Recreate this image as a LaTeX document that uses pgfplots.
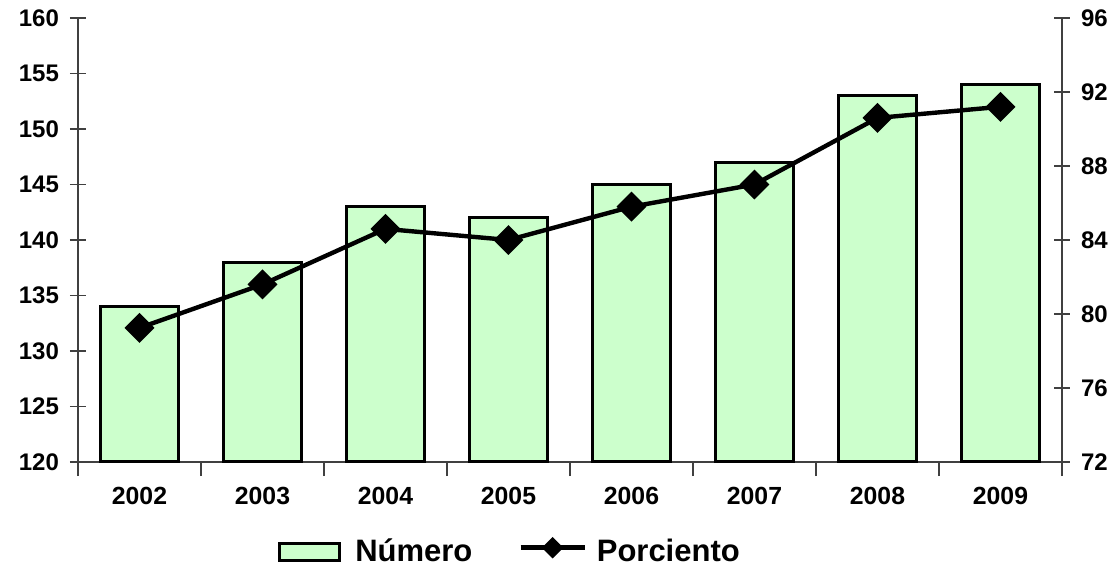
\documentclass[border=0pt]{standalone}
\usepackage{fontspec}
\setmainfont{Liberation Sans}
\usepackage{pgfplots}
\pgfplotsset{compat=1.18}
\definecolor{barfill}{HTML}{CCFFCC}
\pgfplotsset{
  barlegend/.style={legend image code/.code={\draw[##1] (0pt,-4.25pt) rectangle (30pt,4.25pt); \path (35pt,0pt);}},
  linelegend/.style={legend image code/.code={\draw[##1, mark=none] (0pt,2pt) -- (32pt,2pt);
     \draw[##1, mark size=2.7pt] plot coordinates {(16pt,2pt)}; \path (35pt,0pt);}},
}
\begin{document}
\begin{tikzpicture}
\pgfplotsset{
  common/.style={
    width=492pt, height=222pt, scale only axis,
    xmin=-0.5, xmax=7.5,
    /pgf/number format/assume math mode=true,
    tick align=center,
    major tick length=8pt,
    tick style={black!75, line width=0.6pt},
  }
}
\begin{axis}[common,
  axis x line=bottom, axis y line=left,
  x axis line style={-, black!75, line width=0.6pt},
  y axis line style={-, black!75, line width=0.6pt},
  ymin=120, ymax=160, ytick={120,125,...,160},
  yticklabel style={font=\fontsize{12}{14}\selectfont\bfseries, xshift=-2pt},
  xticklabel style={font=\fontsize{12.4}{14}\selectfont\bfseries, yshift=-1pt},
  xtick={0,...,7},
  xticklabels={2002,2003,2004,2005,2006,2007,2008,2009},
  major x tick style={draw=none},
  minor xtick={-0.5,0.5,...,7.5},
  minor tick length=7pt,
  ybar, bar width=39pt,
]
\addplot[draw=black, line width=1.6pt, fill=barfill, bar shift=0pt] coordinates {(0,134) (1,138) (2,143) (3,142) (4,145) (5,147) (6,153) (7,154)};
\end{axis}
\begin{axis}[common,
  axis x line=none, axis y line=right,
  y axis line style={-, black!75, line width=0.6pt},
  ymin=72, ymax=96, ytick={72,76,...,96},
  yticklabel style={font=\fontsize{12}{14}\selectfont\bfseries, xshift=2pt},
  legend style={at={(0.44,-0.202)}, anchor=center, draw=none, fill=none, legend columns=2,
    font=\fontsize{15.5}{18}\selectfont\bfseries,
    /tikz/every even column/.append style={column sep=21pt}},
]
\addlegendimage{draw=black, line width=1.6pt, fill=barfill, barlegend}
\addlegendentry{Número}
\addplot[black, line width=2.2pt, mark=square*, mark size=4.2pt, mark options={rotate=45}, linelegend]
  coordinates {(0,79.25) (1,81.6) (2,84.6) (3,84.0) (4,85.8) (5,87.0) (6,90.6) (7,91.2)};
\addlegendentry{Porciento}
\end{axis}
\pgfresetboundingbox
\path (-39pt,-53.5pt) rectangle (518.5pt,231pt);
\end{tikzpicture}
\end{document}
